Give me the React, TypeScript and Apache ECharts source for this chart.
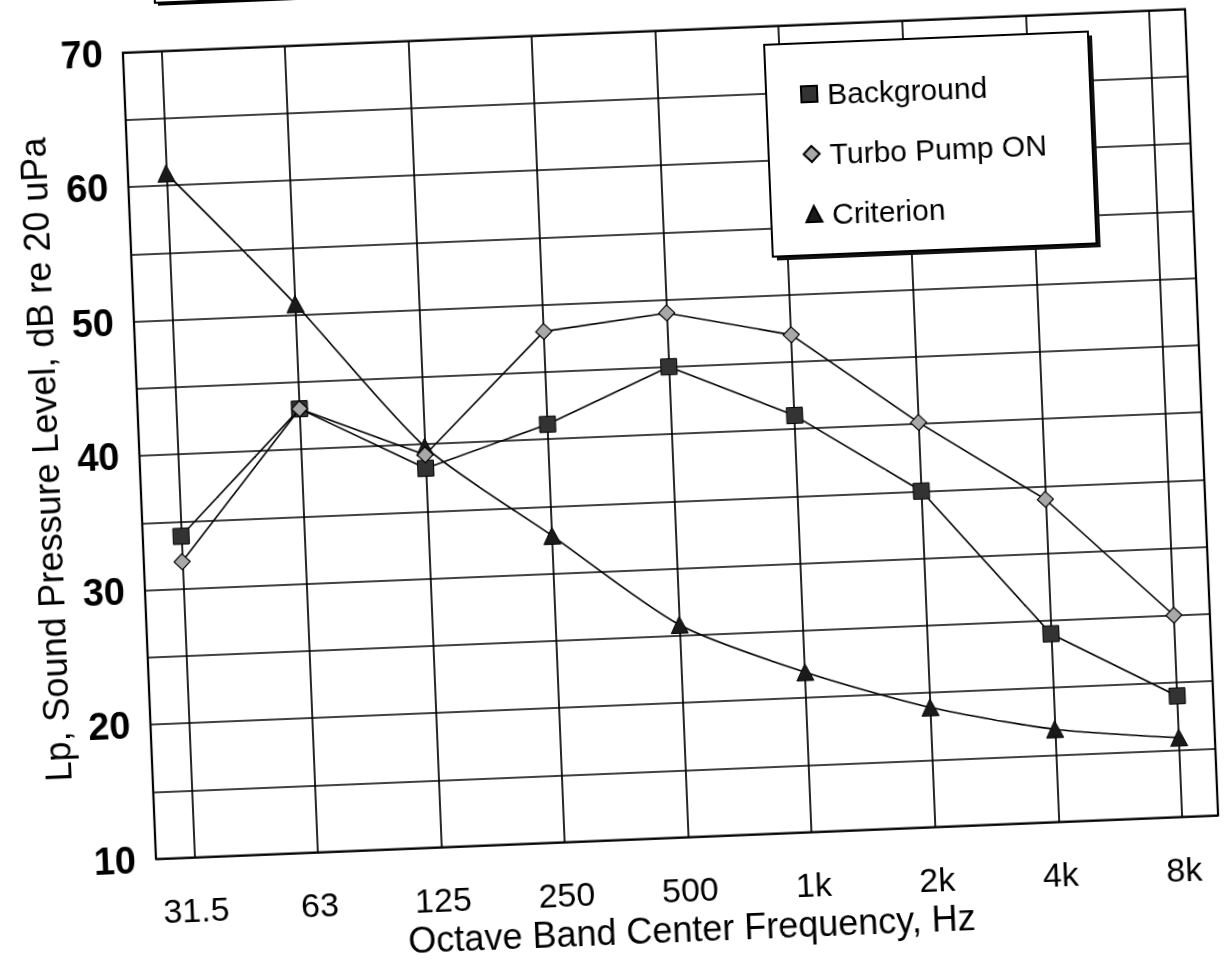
import React, { useEffect, useRef } from "react";
import * as echarts from "echarts";

// ---- data ----
const categories = ["31.5", "63", "125", "250", "500", "1k", "2k", "4k", "8k"];
const background = [33.9, 43.0, 38.2, 41.1, 45.0, 41.0, 35.0, 24.0, 19.0];
const turboPumpOn = [32.0, 43.0, 39.2, 48.0, 49.0, 47.0, 40.1, 34.0, 25.0];
const criterion = [60.9, 50.8, 39.8, 32.8, 25.8, 21.9, 18.9, 16.9, 15.9];
const seriesNames = ["Background", "Turbo Pump ON", "Criterion"];
const yMin = 10;
const yMax = 70;
const yLabelStep = 10;
const xTitle = "Octave Band Center Frequency, Hz";
const yTitle = "Lp, Sound Pressure Level, dB re 20 uPa";

// ---- layout ----
const OY = 30; // vertical offset so elements above the scanned page edge can be drawn
const FONT = "'Liberation Sans', Arial, Helvetica, sans-serif";
const FRAME = { left: 139, top: 30.5 + OY, width: 1063, height: 807 };
const DATA = { left: 177.3, top: 30.5 + OY, width: 988.7, height: 807 };
const GRID_LINE = { color: "#000", width: 1.7 };
const SERIES_LINE = { color: "#000", width: 1.6 };

const option: any = {
  animation: false,
  backgroundColor: "#fff",
  grid: [
    {
      ...FRAME,
      show: true,
      borderColor: "#000",
      borderWidth: 2.2,
      backgroundColor: "transparent",
      containLabel: false,
    },
    { ...DATA, containLabel: false },
  ],
  xAxis: [
    { gridIndex: 0, type: "value", min: 0, max: 1, show: false },
    {
      gridIndex: 1,
      type: "category",
      data: categories,
      boundaryGap: false,
      axisLine: { show: false },
      axisTick: { show: false },
      splitLine: { show: true, lineStyle: GRID_LINE },
      axisLabel: {
        margin: 35,
        fontSize: 34,
        fontFamily: FONT,
        color: "#000",
      },
      name: xTitle,
      nameLocation: "middle",
      nameGap: 42,
      nameTextStyle: { fontSize: 36, fontFamily: FONT, color: "#000" },
    },
  ],
  yAxis: [
    {
      gridIndex: 0,
      type: "value",
      min: yMin,
      max: yMax,
      interval: yLabelStep,
      axisLine: { show: false },
      axisTick: { show: false },
      splitLine: { show: true, lineStyle: GRID_LINE },
      minorTick: { show: false, splitNumber: 2 },
      minorSplitLine: { show: true, lineStyle: GRID_LINE },
      axisLabel: {
        margin: 20,
        fontSize: 38,
        fontWeight: "bold",
        fontFamily: FONT,
        color: "#000",
      },
      name: yTitle,
      nameLocation: "middle",
      nameGap: 76,
      nameTextStyle: { fontSize: 36, fontFamily: FONT, color: "#000" },
    },
    { gridIndex: 1, type: "value", min: yMin, max: yMax, show: false },
  ],
  legend: {
    orient: "vertical",
    left: 809,
    top: 80 + OY,
    itemWidth: 16,
    itemHeight: 16,
    itemGap: 30,
    z: 10,
    textStyle: {
      fontSize: 30,
      fontFamily: FONT,
      color: "#000",
      padding: [0, 0, 0, 5],
    },
    data: [
      { name: seriesNames[0], icon: "rect" },
      { name: seriesNames[1], icon: "diamond" },
      { name: seriesNames[2], icon: "triangle" },
    ],
  },
  graphic: [
    // partial box cut off by the top page edge
    {
      type: "rect",
      z: 5,
      shape: { x: 176, y: -20, width: 240, height: 35 },
      style: { fill: "#000" },
    },
    {
      type: "rect",
      z: 5,
      shape: { x: 173, y: -24, width: 240, height: 36 },
      style: { fill: "#fff", stroke: "#000", lineWidth: 2 },
    },
    // legend box shadow + box
    {
      type: "rect",
      z: 5,
      shape: { x: 784, y: 53 + OY, width: 324, height: 212 },
      style: { fill: "#111" },
    },
    {
      type: "rect",
      z: 5,
      shape: { x: 780, y: 49 + OY, width: 324, height: 212 },
      style: { fill: "#fff", stroke: "#000", lineWidth: 2 },
    },
  ],
  series: [
    {
      name: seriesNames[0],
      type: "line",
      xAxisIndex: 1,
      yAxisIndex: 1,
      data: background,
      symbol: "rect",
      symbolSize: 16,
      z: 3,
      lineStyle: SERIES_LINE,
      itemStyle: { color: "#333", borderColor: "#000", borderWidth: 1 },
    },
    {
      name: seriesNames[1],
      type: "line",
      xAxisIndex: 1,
      yAxisIndex: 1,
      data: turboPumpOn,
      symbol: "diamond",
      symbolSize: 16,
      z: 4,
      lineStyle: SERIES_LINE,
      itemStyle: { color: "#a8a8a8", borderColor: "#000", borderWidth: 1.2 },
    },
    {
      name: seriesNames[2],
      type: "line",
      xAxisIndex: 1,
      yAxisIndex: 1,
      data: criterion,
      symbol: "triangle",
      symbolSize: 17,
      smooth: 0.25,
      z: 2,
      lineStyle: SERIES_LINE,
      itemStyle: { color: "#1a1a1a", borderColor: "#000", borderWidth: 1 },
    },
  ],
};

export default function App() {
  const ref = useRef<HTMLDivElement>(null);
  useEffect(() => {
    if (!ref.current) return;
    const chart = echarts.init(ref.current, null, { renderer: "svg" });
    chart.setOption(option);
    return () => chart.dispose();
  }, []);
  return (
    <div
      ref={ref}
      style={{
        position: "fixed",
        left: 0,
        top: -OY,
        width: 1225,
        height: 969 + OY,
        background: "#fff",
        transform: "rotate(-2.35deg)",
        transformOrigin: `671px ${434 + OY}px`,
      }}
    />
  );
}
